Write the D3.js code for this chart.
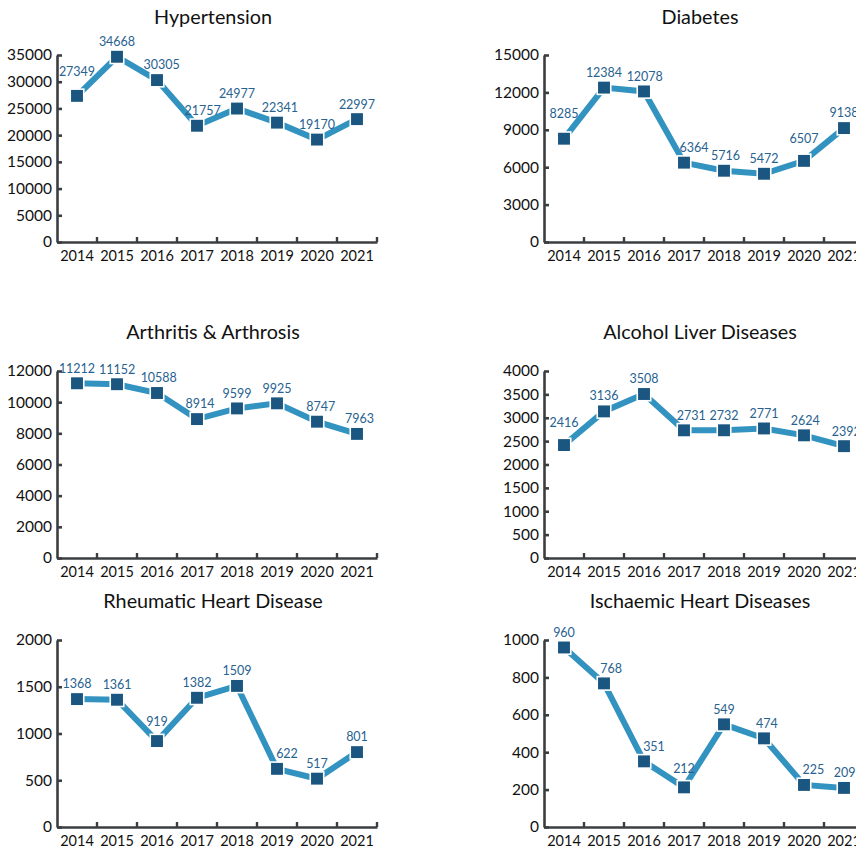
<!DOCTYPE html>
<html>
<head>
<meta charset="utf-8">
<script src="https://cdn.jsdelivr.net/npm/d3@7"></script>
<style>
  html, body { margin: 0; padding: 0; background: #fff; }
  svg { display: block; }
  text { font-family: Lato, "Open Sans", sans-serif; }
</style>
</head>
<body>
<svg id="chart" width="856" height="852"></svg>
<script>
const years = ["2014","2015","2016","2017","2018","2019","2020","2021"];

const hypertension = [27349, 34668, 30305, 21757, 24977, 22341, 19170, 22997];
const diabetes     = [8285, 12384, 12078, 6364, 5716, 5472, 6507, 9138];
const arthritis    = [11212, 11152, 10588, 8914, 9599, 9925, 8747, 7963];
const alcoholLiver = [2416, 3136, 3508, 2731, 2732, 2771, 2624, 2392];
const rheumatic    = [1368, 1361, 919, 1382, 1509, 622, 517, 801];
const ischaemic    = [960, 768, 351, 212, 549, 474, 225, 209];

const hypertensionTicks = [0, 5000, 10000, 15000, 20000, 25000, 30000, 35000];
const diabetesTicks     = [0, 3000, 6000, 9000, 12000, 15000];
const arthritisTicks    = [0, 2000, 4000, 6000, 8000, 10000, 12000];
const alcoholTicks      = [0, 500, 1000, 1500, 2000, 2500, 3000, 3500, 4000];
const rheumaticTicks    = [0, 500, 1000, 1500, 2000];
const ischaemicTicks    = [0, 200, 400, 600, 800, 1000];

const titles = ["Hypertension", "Diabetes", "Arthritis & Arthrosis",
                "Alcohol Liver Diseases", "Rheumatic Heart Disease", "Ischaemic Heart Diseases"];

const panels = [
  { title: titles[0], values: hypertension, ticks: hypertensionTicks, col: 0, row: 0 },
  { title: titles[1], values: diabetes,     ticks: diabetesTicks,     col: 1, row: 0 },
  { title: titles[2], values: arthritis,    ticks: arthritisTicks,    col: 0, row: 1 },
  { title: titles[3], values: alcoholLiver, ticks: alcoholTicks,      col: 1, row: 1 },
  { title: titles[4], values: rheumatic,    ticks: rheumaticTicks,    col: 0, row: 2 },
  { title: titles[5], values: ischaemic,    ticks: ischaemicTicks,    col: 1, row: 2 }
];

const colX = [57, 544];
const rowTop = [55, 371, 640];
const titleBase = [24, 339, 608];
const plotW = 320, plotH = 187;
const axisColor = "#3b3e41";
const lineColor = "#3393c0";
const markerColor = "#1a5680";
const labelColor = "#27628f";

const svg = d3.select("#chart");

panels.forEach(p => {
  const g = svg.append("g").attr("transform", `translate(${colX[p.col]},${rowTop[p.row]})`);
  const x = d3.scaleBand().domain(years).range([0, plotW]);
  const y = d3.scaleLinear().domain([0, d3.max(p.ticks)]).range([plotH, 0]);

  // title
  svg.append("text")
    .attr("x", colX[p.col] + plotW / 2 - 4)
    .attr("y", titleBase[p.row])
    .attr("text-anchor", "middle")
    .attr("font-size", 19.8)
    .attr("fill", "#111")
    .text(p.title);

  // y axis
  const ya = g.append("g").call(
    d3.axisLeft(y).tickValues(p.ticks).tickFormat(d3.format("d"))
      .tickSizeInner(-5).tickSizeOuter(0).tickPadding(5));
  ya.select(".domain").attr("stroke", axisColor).attr("stroke-width", 2.6);
  ya.selectAll(".tick line").attr("stroke", axisColor).attr("stroke-width", 2.6);
  ya.selectAll(".tick text").attr("font-size", 15.5).attr("fill", "#111")
    .attr("font-family", "Lato, sans-serif");

  // x axis
  const xa = g.append("g").attr("transform", `translate(0,${plotH})`).call(
    d3.axisBottom(x).tickSize(0).tickPadding(9));
  xa.select(".domain").attr("stroke", axisColor).attr("stroke-width", 2.6);
  xa.selectAll(".tick text").attr("font-size", 14.5).attr("fill", "#111")
    .attr("font-family", "Lato, sans-serif");
  // boundary ticks pointing up
  g.append("g").selectAll("line").data(years).join("line")
    .attr("x1", d => x(d) + x.step()).attr("x2", d => x(d) + x.step())
    .attr("y1", plotH).attr("y2", plotH - 5)
    .attr("stroke", axisColor).attr("stroke-width", 2.4);

  const pts = p.values.map((v, i) => ({ v, year: years[i], px: x(years[i]) + x.bandwidth() / 2, py: y(v) }));

  // line
  g.append("path").datum(pts)
    .attr("fill", "none").attr("stroke", lineColor).attr("stroke-width", 6)
    .attr("d", d3.line().x(d => d.px).y(d => d.py));

  // markers
  const ms = 13.5;
  g.append("g").selectAll("rect").data(pts).join("rect")
    .attr("x", d => d.px - ms / 2).attr("y", d => d.py - ms / 2)
    .attr("width", ms).attr("height", ms)
    .attr("fill", markerColor).attr("stroke", "#fff").attr("stroke-width", 1.6);

  // value labels with simple avoidance of the line
  g.append("g").selectAll("text").data(pts).join("text")
    .each(function (d, i) {
      const prev = pts[i - 1], next = pts[i + 1];
      const L = prev ? d.py - prev.py : 0;
      const R = next ? d.py - next.py : 0;
      let dx = Math.max(0, Math.min(10, (L - Math.max(0, R)) * 0.2));
      let dy = 15;
      if (L <= 0) dy += Math.max(0, Math.min(10, (R - 15) * 0.4));
      if (L > 20 && R > 20) dy += 4;
      d3.select(this)
        .attr("x", d.px + dx).attr("y", d.py - dy)
        .attr("dy", "0.35em");
    })
    .attr("text-anchor", "middle")
    .attr("font-size", 12.5)
    .attr("fill", labelColor)
    .text(d => d.v);
});
</script>
</body>
</html>
